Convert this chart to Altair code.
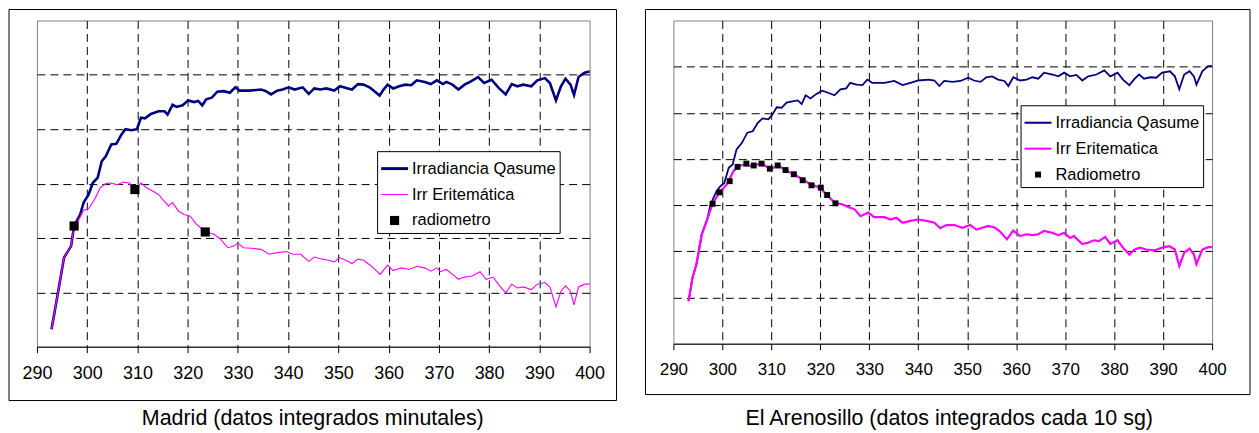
import altair as alt
import pandas as pd

FONT = "Liberation Sans"

# ---------------- Madrid ----------------
mad_names = ["Irradiancia Qasume", "Irr Eritemática", "radiometro"]
mad_q_x = [292.9, 293.5, 295.4, 296.8, 297.4, 298.6, 299.3, 300.3, 301.1, 302.1, 302.9, 303.7, 304.8, 305.8,
           306.8, 307.6, 308.8, 309.9, 310.7, 311.5, 312.7, 314.2, 315.4, 316.0, 317.0, 317.8, 319.0, 320.1,
           321.3, 322.1, 322.9, 323.7, 324.8, 325.9, 327.2, 328.4, 329.5, 330.3, 332.3, 334.6, 335.6, 336.6,
           337.8, 338.9, 340.1, 341.3, 342.9, 344.1, 345.2, 346.4, 347.6, 349.2, 350.3, 351.9, 352.7, 353.9,
           355.0, 356.2, 357.0, 358.2, 359.0, 359.8, 360.9, 362.1, 363.3, 364.5, 365.6, 367.2, 368.4, 369.6,
           370.8, 371.5, 372.7, 373.9, 375.1, 376.2, 377.8, 379.0, 380.5, 381.9, 383.3, 384.5, 385.6, 386.8,
           388.4, 389.6, 391.1, 392.1, 393.3, 394.3, 395.2, 396.2, 396.9, 397.8, 399.0, 400.0]
mad_q_y = [0.32, 0.63, 1.64, 1.85, 2.22, 2.43, 2.65, 2.80, 3.01, 3.11, 3.41, 3.50, 3.72, 3.73,
           3.90, 4.00, 3.98, 4.00, 4.21, 4.20, 4.28, 4.33, 4.33, 4.27, 4.45, 4.41, 4.44, 4.53,
           4.50, 4.52, 4.44, 4.55, 4.58, 4.69, 4.70, 4.67, 4.77, 4.71, 4.71, 4.73, 4.70, 4.64,
           4.71, 4.73, 4.77, 4.73, 4.77, 4.65, 4.75, 4.73, 4.75, 4.71, 4.79, 4.75, 4.73, 4.83,
           4.82, 4.77, 4.71, 4.62, 4.73, 4.82, 4.75, 4.79, 4.82, 4.81, 4.90, 4.87, 4.83, 4.90,
           4.83, 4.87, 4.82, 4.73, 4.82, 4.87, 4.96, 4.85, 4.91, 4.76, 4.64, 4.83, 4.79, 4.82,
           4.79, 4.90, 4.94, 4.85, 4.53, 4.79, 4.93, 4.82, 4.63, 4.96, 5.04, 5.06]
mad_e_x = [292.9, 293.5, 295.4, 296.8, 297.4, 298.2, 299.3, 300.3, 301.5, 302.6, 303.7, 304.8, 306.0, 307.2,
           308.4, 309.5, 310.7, 311.9, 313.1, 314.2, 315.0, 316.2, 317.0, 318.2, 319.3, 320.5, 321.7, 322.9,
           324.1, 325.2, 326.4, 328.0, 329.2, 330.0, 331.1, 332.7, 334.6, 336.2, 337.8, 339.7, 340.9, 342.5,
           344.1, 345.2, 346.8, 348.0, 349.2, 350.2, 351.5, 352.7, 353.9, 355.0, 356.6, 358.3, 359.8, 360.9,
           362.5, 364.1, 365.6, 367.2, 368.4, 369.6, 370.3, 371.5, 372.7, 373.9, 375.1, 376.6, 378.2, 379.4,
           380.8, 382.1, 383.3, 384.5, 385.6, 386.8, 388.4, 389.6, 391.1, 392.1, 393.3, 394.3, 395.2, 396.2,
           396.9, 397.8, 399.0, 400.0]
mad_e_y = [0.32, 0.63, 1.64, 1.85, 2.22, 2.31, 2.51, 2.54, 2.71, 2.92, 3.00, 3.01, 2.98, 3.03,
           3.01, 2.89, 3.01, 2.92, 2.86, 2.80, 2.71, 2.59, 2.65, 2.49, 2.43, 2.40, 2.26, 2.16,
           2.10, 2.07, 1.99, 1.82, 1.85, 1.91, 1.82, 1.81, 1.79, 1.70, 1.73, 1.75, 1.70, 1.70,
           1.57, 1.65, 1.61, 1.59, 1.56, 1.64, 1.59, 1.53, 1.61, 1.59, 1.48, 1.33, 1.50, 1.40,
           1.45, 1.42, 1.48, 1.45, 1.39, 1.45, 1.38, 1.42, 1.33, 1.24, 1.28, 1.30, 1.38, 1.24,
           1.28, 1.12, 0.99, 1.15, 1.08, 1.10, 1.05, 1.15, 1.18, 1.10, 0.73, 1.02, 1.12, 1.02,
           0.77, 1.10, 1.15, 1.15]
mad_r_x = [297.4, 309.5, 323.5]
mad_r_y = [2.22, 2.89, 2.11]

# ---------------- El Arenosillo ----------------
are_names = ["Irradiancia Qasume", "Irr Eritematica", "Radiometro"]
are_q_x = [293.1, 293.9, 294.7, 295.8, 296.9, 297.6, 298.8, 299.6, 300.4, 301.3, 302.1, 302.9, 304.0, 305.1,
           306.2, 307.2, 308.2, 309.4, 310.2, 311.1, 312.1, 313.1, 314.3, 315.4, 316.2, 317.0, 318.0, 319.2,
           320.4, 321.7, 322.9, 324.1, 325.3, 326.1, 327.4, 328.6, 329.6, 330.6, 333.1, 335.1, 336.8, 338.4,
           340.0, 342.1, 343.3, 344.3, 345.3, 347.0, 348.6, 350.2, 351.4, 352.7, 353.9, 355.1, 356.3, 357.6,
           358.4, 359.4, 360.8, 362.1, 363.3, 364.5, 365.7, 367.4, 368.6, 369.8, 371.0, 372.3, 373.5, 374.7,
           376.4, 378.0, 379.2, 380.7, 381.8, 383.1, 384.2, 385.1, 386.1, 387.4, 388.6, 389.8, 391.4, 392.4,
           393.3, 394.3, 395.4, 396.3, 396.8, 398.0, 399.2, 400.0]
are_q_y = [0.92, 1.43, 1.72, 2.37, 2.69, 3.02, 3.30, 3.41, 3.48, 3.81, 3.88, 4.21, 4.35, 4.57,
           4.60, 4.78, 4.88, 4.86, 4.96, 5.12, 5.11, 5.22, 5.25, 5.27, 5.19, 5.38, 5.31, 5.41,
           5.48, 5.43, 5.38, 5.51, 5.53, 5.65, 5.61, 5.60, 5.72, 5.65, 5.65, 5.69, 5.60, 5.65,
           5.70, 5.72, 5.70, 5.58, 5.69, 5.67, 5.69, 5.76, 5.70, 5.67, 5.77, 5.79, 5.72, 5.69,
           5.58, 5.77, 5.70, 5.72, 5.77, 5.74, 5.87, 5.83, 5.79, 5.87, 5.79, 5.82, 5.70, 5.79,
           5.83, 5.92, 5.79, 5.87, 5.72, 5.60, 5.74, 5.83, 5.74, 5.77, 5.76, 5.87, 5.90, 5.79,
           5.51, 5.83, 5.90, 5.79, 5.61, 5.90, 6.01, 6.01]
are_e_x = [293.1, 293.9, 294.7, 295.8, 296.9, 298.0, 299.4, 300.9, 302.3, 303.3, 304.5, 305.7, 306.9, 308.2,
           309.8, 311.3, 312.7, 314.3, 316.4, 318.0, 320.0, 321.3, 323.0, 324.5, 325.7, 327.0, 328.2, 329.8,
           331.0, 333.1, 334.3, 335.5, 336.8, 338.4, 340.0, 341.7, 343.3, 344.5, 345.7, 347.4, 349.0, 350.6,
           351.9, 353.1, 354.3, 355.7, 356.8, 358.1, 359.4, 360.8, 362.1, 363.3, 364.5, 365.7, 367.4, 368.6,
           369.8, 371.0, 371.8, 373.5, 374.7, 375.9, 376.9, 378.2, 379.2, 380.7, 381.8, 383.1, 384.2, 385.3,
           386.5, 388.2, 389.8, 391.3, 392.4, 393.3, 394.3, 395.4, 396.3, 396.8, 398.0, 399.2, 400.0]
are_e_y = [0.92, 1.43, 1.72, 2.37, 2.69, 3.03, 3.27, 3.45, 3.74, 3.85, 3.88, 3.85, 3.88, 3.90,
           3.77, 3.87, 3.77, 3.68, 3.56, 3.45, 3.38, 3.22, 3.05, 3.02, 2.96, 2.91, 2.76, 2.84,
           2.74, 2.74, 2.69, 2.73, 2.62, 2.66, 2.69, 2.66, 2.62, 2.50, 2.57, 2.57, 2.51, 2.57,
           2.47, 2.51, 2.55, 2.51, 2.42, 2.26, 2.45, 2.33, 2.37, 2.35, 2.37, 2.44, 2.40, 2.35,
           2.40, 2.29, 2.33, 2.16, 2.19, 2.24, 2.22, 2.31, 2.16, 2.24, 2.08, 1.93, 2.04, 2.08,
           2.04, 2.02, 2.08, 2.11, 2.04, 1.68, 1.97, 2.06, 1.93, 1.72, 2.04, 2.09, 2.09]
are_r_x = [298.0, 299.4, 301.5, 303.1, 304.9, 306.4, 308.0, 309.7, 311.3, 312.9, 314.6, 316.4, 318.2, 320.1,
           321.4, 323.1]
are_r_y = [3.03, 3.28, 3.52, 3.83, 3.90, 3.86, 3.90, 3.79, 3.86, 3.76, 3.67, 3.54, 3.43, 3.38,
           3.22, 3.04]

x_ticks = [290, 300, 310, 320, 330, 340, 350, 360, 370, 380, 390, 400]


def rect_path(hw, hh):
    return f"M{-hw},{-hh}H{hw}V{hh}H{-hw}Z"


def panel(names, qx, qy, ex, ey, rx, ry, title, w, h, ymax, qw, ew, sq, lq, le,
          tick_fs, title_y, leg_x, leg_y, fr_r, fr_b):
    dq = pd.DataFrame({"x": qx, "y": qy, "serie": names[0]})
    de = pd.DataFrame({"x": ex, "y": ey, "serie": names[1]})
    dr = pd.DataFrame({"x": rx, "y": ry, "serie": names[2]})

    xax = alt.Axis(values=x_ticks, format="d", labelFont=FONT, labelFontSize=tick_fs,
                   labelColor="black", labelPadding=12, labelFlush=False, labelOverlap=False,
                   tickSize=6, tickColor="black",
                   domainColor="black", grid=True, gridColor="black", gridDash=[8, 5],
                   gridOpacity={"condition": {"test": "datum.value <= 290 || datum.value >= 400", "value": 0},
                                "value": 1},
                   title=title, titleFont=FONT, titleFontSize=21.5, titleFontWeight="normal",
                   titleColor="black", titleY=title_y, titleX=276, titleAlign="center",
                   titleBaseline="middle")
    yax = alt.Axis(values=list(range(0, ymax + 1)), labels=False, ticks=False, domain=False,
                   grid=True, gridColor="black", gridDash=[8, 5],
                   gridOpacity={"condition": {"test": f"datum.value <= 0 || datum.value >= {ymax}", "value": 0},
                                "value": 1},
                   title=None)
    X = alt.X("x:Q", scale=alt.Scale(domain=[290, 400], nice=False, zero=False), axis=xax)
    Y = alt.Y("y:Q", scale=alt.Scale(domain=[0, ymax], nice=False, zero=False), axis=yax)

    frame = alt.Chart(alt.Data(values=[{"a": 1}])).mark_rect(
        filled=False, stroke="black", strokeWidth=1).encode(
        x=alt.value(-28), x2=alt.value(w + fr_r),
        y=alt.value(-11), y2=alt.value(h + fr_b))

    lq_layer = alt.Chart(dq).mark_line(color="#000080", strokeWidth=qw).encode(x=X, y=Y)
    le_layer = alt.Chart(de).mark_line(color="#FF00FF", strokeWidth=ew).encode(x=X, y=Y)

    legend = alt.Legend(title=None, orient="none", legendX=leg_x, legendY=leg_y, direction="vertical",
                        strokeColor="black", fillColor="white", padding=4, rowPadding=4,
                        symbolSize=729, symbolStrokeWidth=0, labelFont=FONT, labelFontSize=16.5,
                        labelColor="black", labelOffset=4, labelLimit=300, cornerRadius=0)
    paths = [rect_path(1, lq), rect_path(1, le), rect_path(sq, sq)]
    pts = alt.Chart(dr).mark_point(filled=True, size=729, opacity=1, strokeWidth=0).encode(
        x=X, y=Y,
        color=alt.Color("serie:N", scale=alt.Scale(domain=names, range=["#000080", "#FF00FF", "#000000"]),
                        legend=legend),
        shape=alt.Shape("serie:N", scale=alt.Scale(domain=names, range=paths), legend=legend),
    )
    return alt.layer(frame, lq_layer, le_layer, pts).properties(width=w, height=h)


left = panel(mad_names, mad_q_x, mad_q_y, mad_e_x, mad_e_y, mad_r_x, mad_r_y,
             "Madrid (datos integrados minutales)", 554, 327, 6, 2.6, 1.1, 0.34, 0.11, 0.04,
             18, 72, 341, 131, 27, 54)
right = panel(are_names, are_q_x, are_q_y, are_e_x, are_e_y, are_r_x, are_r_y,
              "El Arenosillo (datos integrados cada 10 sg)", 540, 324, 7, 1.8, 2.2, 0.22, 0.075, 0.075,
              17, 75, 348, 85, 38, 51)

chart = alt.hconcat(left, right, spacing=27).properties(
    padding={"left": 0, "top": 0, "right": 0, "bottom": 0}
).configure_view(stroke="#808080", strokeWidth=1).resolve_scale(color="independent", shape="independent")

chart.save("out.html", embed_options={"renderer": "svg", "actions": False})
